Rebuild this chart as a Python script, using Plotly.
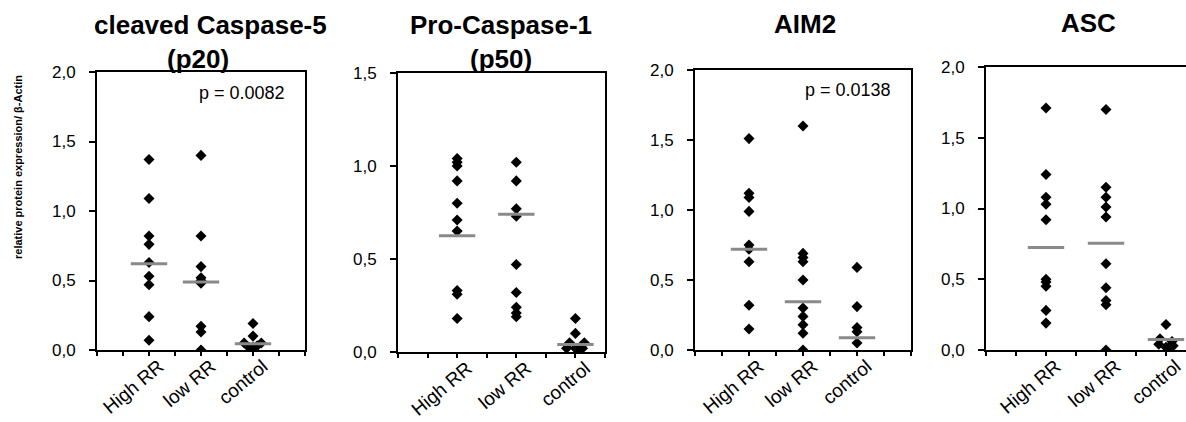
import plotly.graph_objects as go

W, H = 1186, 422

categories = ["High RR", "low RR", "control"]
titles = ["cleaved Caspase-5", "Pro-Caspase-1", "AIM2", "ASC"]
subtitles = ["(p20)", "(p50)", "", ""]
p_values = ["p = 0.0082", "", "p = 0.0138", ""]
y_title = "relative protein expression/ β-Actin"

y_max = [2.0, 1.5, 2.0, 2.0]
y_tick_vals = [[0, 0.5, 1.0, 1.5, 2.0], [0, 0.5, 1.0, 1.5], [0, 0.5, 1.0, 1.5, 2.0], [0, 0.5, 1.0, 1.5, 2.0]]
y_tick_text = [["0,0", "0,5", "1,0", "1,5", "2,0"], ["0,0", "0,5", "1,0", "1,5"],
               ["0,0", "0,5", "1,0", "1,5", "2,0"], ["0,0", "0,5", "1,0", "1,5", "2,0"]]

# cleaved Caspase-5 (p20)
casp5_high = [1.37, 1.09, 0.82, 0.76, 0.63, 0.53, 0.47, 0.24, 0.07]
casp5_low = [1.40, 0.82, 0.60, 0.52, 0.50, 0.48, 0.17, 0.13, 0.0]
casp5_ctrl = [0.19, 0.10, 0.05, 0.05, 0.03, 0.02, 0.02, 0.01]
casp5_median = [0.62, 0.49, 0.045]

# Pro-Caspase-1 (p50)
procasp1_high = [1.04, 1.02, 1.00, 0.92, 0.80, 0.71, 0.65, 0.33, 0.31, 0.18]
procasp1_low = [1.02, 0.92, 0.77, 0.73, 0.47, 0.32, 0.24, 0.21, 0.19]
procasp1_ctrl = [0.18, 0.10, 0.05, 0.05, 0.02, 0.02, 0.02, 0.01]
procasp1_median = [0.625, 0.74, 0.04]

# AIM2
aim2_high = [1.51, 1.12, 1.09, 0.99, 0.75, 0.72, 0.63, 0.32, 0.15]
aim2_low = [1.60, 0.69, 0.66, 0.63, 0.50, 0.30, 0.24, 0.18, 0.12, 0.0]
aim2_ctrl = [0.59, 0.31, 0.16, 0.13, 0.05]
aim2_median = [0.72, 0.345, 0.088]

# ASC
asc_high = [1.71, 1.24, 1.08, 1.03, 0.92, 0.50, 0.48, 0.45, 0.28, 0.19]
asc_low = [1.70, 1.15, 1.08, 1.01, 0.94, 0.61, 0.44, 0.35, 0.32, 0.0]
asc_ctrl = [0.18, 0.08, 0.06, 0.04, 0.03, 0.02, 0.02]
asc_median = [0.725, 0.755, 0.075]

panels_data = [
    (casp5_high, casp5_low, casp5_ctrl, casp5_median),
    (procasp1_high, procasp1_low, procasp1_ctrl, procasp1_median),
    (aim2_high, aim2_low, aim2_ctrl, aim2_median),
    (asc_high, asc_low, asc_ctrl, asc_median),
]

# small horizontal spread of overlapping control points (category units)
ctrl_spread = [
    [0, 0, -0.17, 0.16, 0.08, -0.08, 0, 0],
    [0, 0, -0.1, 0.15, -0.15, 0, 0.12, 0.05],
    [0, 0, 0, 0, 0],
    [0, -0.1, 0.1, -0.12, 0.12, 0, 0.05],
]

# panel geometry in pixels: left, right, top, bottom, x range max
geom = [
    (97, 305, 72, 350, 4.0),
    (398, 605, 73, 352, 3.5),
    (695, 911, 70, 350, 4.0),
    (986, 1186, 67, 350, 200 / 60),
]
title_pos = [((210, 25), (198, 59)), ((501, 25), (501, 59)), ((805, 24), None), ((1088, 23), None)]
p_pos = [(242, 93), None, (848, 90), None]

FONT = "Arial, Liberation Sans, sans-serif"
fig = go.Figure()
annotations = []

for i, (high, low, ctrl, med) in enumerate(panels_data):
    n = i + 1
    xa = "x" if n == 1 else f"x{n}"
    ya = "y" if n == 1 else f"y{n}"
    groups = [high, low, ctrl]
    for gi, vals in enumerate(groups):
        if gi == 2:
            xs = [gi + 1 + d for d in ctrl_spread[i]]
        else:
            xs = [gi + 1] * len(vals)
        fig.add_trace(go.Scatter(
            x=xs, y=vals, mode="markers", xaxis=xa, yaxis=ya, showlegend=False,
            marker=dict(symbol="diamond", size=8.5, color="black", line=dict(width=0)),
            hoverinfo="y"))
    fig.add_trace(go.Scatter(
        x=[1, 2, 3], y=med, mode="markers", xaxis=xa, yaxis=ya, showlegend=False,
        marker=dict(symbol="line-ew", size=26, color="#8a8a8a",
                    line=dict(width=3, color="#8a8a8a")),
        hoverinfo="y"))

    l, r, t, b, xmax = geom[i]
    xk = "xaxis" if n == 1 else f"xaxis{n}"
    yk = "yaxis" if n == 1 else f"yaxis{n}"
    xt = [k * 0.5 for k in range(int(xmax / 0.5) + 1)]
    xtt = [categories[int(v) - 1] if (v in (1, 2, 3)) else "" for v in xt]
    fig.layout[xk] = dict(
        domain=[l / W, min(r / W, 1.0)], range=[0, xmax], anchor=ya,
        automargin=False,
        showline=True, linecolor="black", linewidth=2, mirror=True,
        showgrid=False, zeroline=False,
        tickmode="array", tickvals=xt, ticktext=xtt, ticks="outside", ticklen=4,
        tickwidth=1.5, tickcolor="black", tickangle=-40,
        ticklabelstandoff=-8, ticklabelshift=10,
        tickfont=dict(family=FONT, size=19, color="black"), fixedrange=True)
    fig.layout[yk] = dict(
        domain=[1 - b / H, 1 - t / H], range=[0, y_max[i]], anchor=xa,
        automargin=False,
        showline=True, linecolor="black", linewidth=2, mirror=(n != 4),
        showgrid=False, zeroline=False,
        tickmode="array", tickvals=y_tick_vals[i], ticktext=y_tick_text[i],
        ticks="outside", ticklen=6, tickwidth=1.5, tickcolor="black",
        ticklabelstandoff=10,
        tickfont=dict(family=FONT, size=17, color="black"), fixedrange=True)

    (tx, ty), sub = title_pos[i]
    annotations.append(dict(x=tx / W, y=1 - ty / H, xref="paper", yref="paper",
                            text=f"<b>{titles[i]}</b>", showarrow=False,
                            xanchor="center", yanchor="middle",
                            font=dict(family=FONT, size=26, color="black")))
    if sub:
        sx, sy = sub
        annotations.append(dict(x=sx / W, y=1 - sy / H, xref="paper", yref="paper",
                                text=f"<b>{subtitles[i]}</b>", showarrow=False,
                                xanchor="center", yanchor="middle",
                                font=dict(family=FONT, size=26, color="black")))
    if p_pos[i]:
        px, py = p_pos[i]
        annotations.append(dict(x=px / W, y=1 - py / H, xref="paper", yref="paper",
                                text=p_values[i], showarrow=False,
                                xanchor="center", yanchor="middle",
                                font=dict(family=FONT, size=18, color="black")))

annotations.append(dict(x=18 / W, y=1 - 167 / H, xref="paper", yref="paper",
                        text=f"<b>{y_title}</b>", showarrow=False, textangle=-90,
                        xanchor="center", yanchor="middle",
                        font=dict(family=FONT, size=11, color="black")))

fig.update_layout(template="none", width=W, height=H,
                  margin=dict(l=0, r=0, t=0, b=0, pad=0, autoexpand=False),
                  paper_bgcolor="white", plot_bgcolor="white",
                  annotations=annotations, showlegend=False)

fig.write_html("out.html", config={"displayModeBar": False},
               post_script="document.body.style.margin='0';document.body.style.overflow='hidden';")
